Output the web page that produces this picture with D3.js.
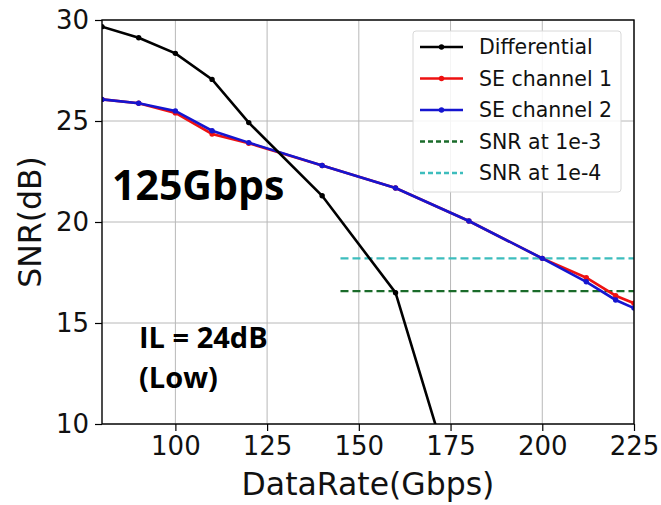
<!DOCTYPE html>
<html>
<head>
<meta charset="utf-8">
<script src="https://cdn.jsdelivr.net/npm/d3@7"></script>
<style>
  body { margin: 0; background: #fff; }
  text { font-family: "DejaVu Sans", sans-serif; }
  .note text { font-family: "Open Sans", "Noto Sans", sans-serif; font-weight: bold; }
</style>
</head>
<body>
<div id="mount"></div>
<script>
'use strict';

// data
const rates = [80, 90, 100, 110, 120, 140, 160, 180, 200, 212, 220, 225];
const diffRates = [80, 90, 100, 110, 120, 140, 160, 180];
const diffSnr = [29.67, 29.12, 28.35, 27.06, 24.92, 21.3, 16.5, 4.5];
const se1Snr = [26.07, 25.88, 25.4, 24.36, 23.9, 22.8, 21.68, 20.05, 18.2, 17.24, 16.35, 15.98];
const se2Snr = [26.07, 25.88, 25.5, 24.52, 23.93, 22.8, 21.68, 20.05, 18.2, 17.04, 16.14, 15.74];
const thresholds = [
  { name: 'SNR at 1e-3', value: 16.58, color: '#1a6b2a' },
  { name: 'SNR at 1e-4', value: 18.2, color: '#3dbdbd' }
];
const thresholdRange = [145, 225];
const xTicks = [100, 125, 150, 175, 200, 225];
const yTicks = [10, 15, 20, 25, 30];

const series = [
  { name: 'Differential', color: '#000000', x: diffRates, y: diffSnr },
  { name: 'SE channel 1', color: '#ee1111', x: rates, y: se1Snr },
  { name: 'SE channel 2', color: '#1515d0', x: rates, y: se2Snr }
];

// plot area
const margin = { top: 20, left: 102, bottom: 81, right: 27 },
      W = 661, H = 505,
      width = W - margin.left - margin.right,
      height = H - margin.top - margin.bottom;

const svg = d3.select('#mount').append('svg')
    .attr('width', W)
    .attr('height', H);

const g = svg.append('g')
    .attr('transform', `translate(${margin.left}, ${margin.top})`);

const x = d3.scaleLinear().domain([80, 225]).range([0, width]);
const y = d3.scaleLinear().domain([10, 30]).range([height, 0]);

// grid
g.append('g').selectAll('line').data(xTicks).join('line')
    .attr('x1', d => x(d)).attr('x2', d => x(d))
    .attr('y1', 0).attr('y2', height)
    .style('stroke', '#b8b8b8').style('stroke-width', 1);
g.append('g').selectAll('line').data(yTicks).join('line')
    .attr('x1', 0).attr('x2', width)
    .attr('y1', d => y(d)).attr('y2', d => y(d))
    .style('stroke', '#b8b8b8').style('stroke-width', 1);

// clip so the differential curve stops at the frame
g.append('clipPath').attr('id', 'clip')
  .append('rect').attr('width', width).attr('height', height);

const plot = g.append('g').attr('clip-path', 'url(#clip)');

const line = d3.line().x(d => x(d[0])).y(d => y(d[1]));

// threshold lines
thresholds.forEach(t => {
  plot.append('path')
      .datum(thresholdRange.map(r => [r, t.value]))
      .attr('d', line)
      .style('fill', 'none')
      .style('stroke', t.color)
      .style('stroke-width', 2.3)
      .style('stroke-dasharray', '8,4');
});

// curves, channel 1 under channel 2, differential on top
[series[1], series[2], series[0]].forEach(s => {
  const pts = s.x.map((v, i) => [v, s.y[i]]);
  plot.append('path')
      .datum(pts)
      .attr('d', line)
      .style('fill', 'none')
      .style('stroke', s.color)
      .style('stroke-width', 2.6);
  plot.append('g').selectAll('circle').data(pts).join('circle')
      .attr('cx', d => x(d[0]))
      .attr('cy', d => y(d[1]))
      .attr('r', 2.7)
      .style('fill', s.color);
});

// frame
g.append('rect')
    .attr('width', width).attr('height', height)
    .style('fill', 'none').style('stroke', '#000').style('stroke-width', 1.4);

// axes
const xAxis = g.append('g')
    .attr('transform', `translate(0, ${height})`)
    .call(d3.axisBottom(x).tickValues(xTicks).tickSize(7).tickPadding(6));
const yAxis = g.append('g')
    .call(d3.axisLeft(y).tickValues(yTicks).tickSize(7).tickPadding(6));
[xAxis, yAxis].forEach(a => {
  a.select('.domain').remove();
  a.selectAll('text').style('font-size', '26px').style('fill', '#111');
  a.selectAll('line').style('stroke', '#000').style('stroke-width', 1.2);
});

svg.append('text')
    .attr('x', margin.left + width / 2)
    .attr('y', 495)
    .attr('text-anchor', 'middle')
    .style('font-size', '31.5px')
    .style('fill', '#111')
    .text('DataRate(Gbps)');

svg.append('text')
    .attr('transform', `translate(41, ${margin.top + height / 2}) rotate(-90)`)
    .attr('text-anchor', 'middle')
    .style('font-size', '31.5px')
    .style('fill', '#111')
    .text('SNR(dB)');

// annotations
const note = svg.append('g').attr('class', 'note').style('fill', '#000');
note.append('text').attr('x', 112).attr('y', 200)
    .style('font-size', '41px').text('125Gbps');
note.append('text').attr('x', 139).attr('y', 348)
    .style('font-size', '29px').text('IL = 24dB');
note.append('text').attr('x', 139).attr('y', 388)
    .style('font-size', '29px').text('(Low)');

// legend
const legend = svg.append('g').attr('transform', 'translate(413, 31)');
legend.append('rect')
    .attr('width', 208).attr('height', 161).attr('rx', 3)
    .style('fill', 'rgba(255,255,255,0.85)')
    .style('stroke', '#d8d8d8');

const entries = series.map(s => ({ name: s.name, color: s.color, dash: null }))
  .concat(thresholds.map(t => ({ name: t.name, color: t.color, dash: '5,3' })));

const item = legend.selectAll('g.item').data(entries).join('g')
    .attr('class', 'item')
    .attr('transform', (d, i) => `translate(0, ${16 + i * 31.5})`);
item.append('line')
    .attr('x1', 7).attr('x2', 50)
    .style('stroke', d => d.color)
    .style('stroke-width', d => d.dash ? 2.3 : 2.6)
    .style('stroke-dasharray', d => d.dash);
item.filter(d => !d.dash).append('circle')
    .attr('cx', 28.5).attr('r', 2.7)
    .style('fill', d => d.color);
item.append('text')
    .attr('x', 66).attr('dy', '0.35em')
    .style('font-size', '20.5px')
    .style('fill', '#111')
    .text(d => d.name);
</script>
</body>
</html>
